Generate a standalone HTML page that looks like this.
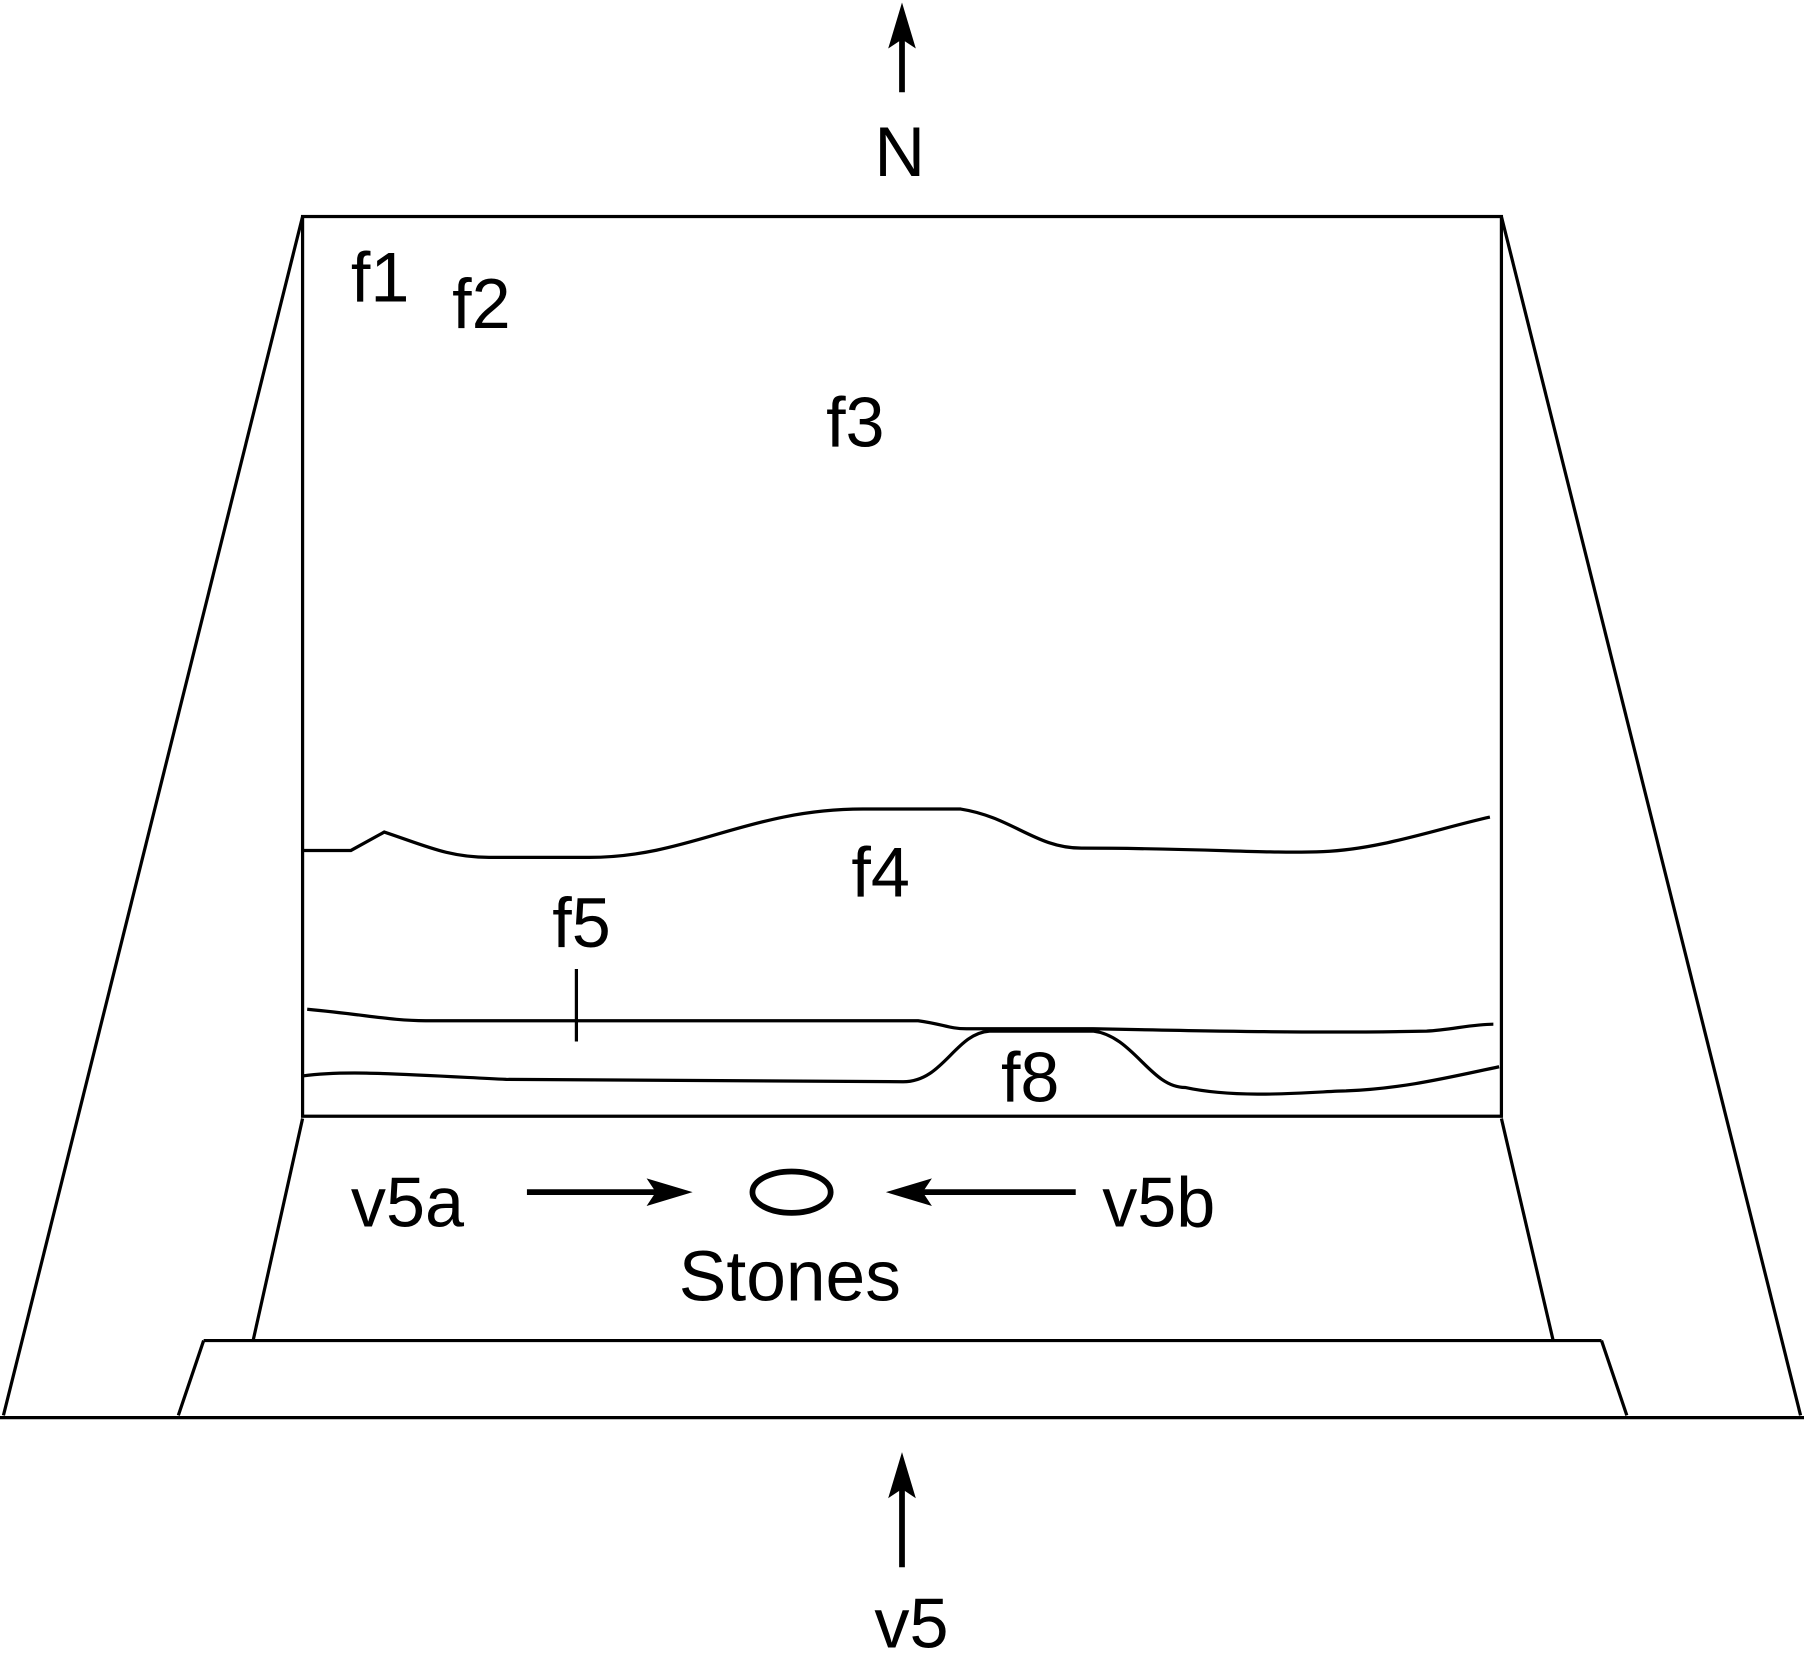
<!DOCTYPE html>
<html><head><meta charset="utf-8"><style>html,body{margin:0;padding:0;background:#fff}svg{display:block}</style></head>
<body>
<svg width="1804" height="1671" viewBox="0 0 1568 1452" xmlns="http://www.w3.org/2000/svg">
<g fill="none" stroke="#000" stroke-width="2.8">
<line x1="263" y1="188" x2="3" y2="1230"/>
<line x1="1305" y1="188" x2="1565" y2="1230"/>
<line x1="0" y1="1232" x2="1568" y2="1232"/>
<rect x="263" y="188" width="1042" height="782"/>
<line x1="263" y1="972" x2="220" y2="1165"/>
<line x1="1305" y1="972" x2="1350" y2="1165"/>
<line x1="177" y1="1165" x2="1392" y2="1165"/>
<line x1="177" y1="1165" x2="155" y2="1230"/>
<line x1="1392" y1="1165" x2="1414" y2="1230"/>
<path d="M263,739 L305,739 L334,723 C370,735 390,745 425,745 L512,745 C600,745 650,703 750,703 L835,703 C880,710 900,737 940,737 C1050,737 1100,742 1150,740 C1200,738 1250,720 1295,710"/>
<path d="M267,877 C320,882 340,887 370,887 L798,887 C820,890 825,894 840,894 L950,894 C1050,896 1150,898 1240,896 C1260,895 1280,890 1298,890"/>
<path d="M263,935 C300,930 340,933 440,938 L785,940 C820,940 830,898 860,896 L950,896 C985,900 1000,945 1030,945 C1080,956 1150,948 1170,948 C1220,946 1260,936 1303,927"/>
<line x1="501" y1="842" x2="501" y2="905"/>
<ellipse cx="688" cy="1036" rx="34" ry="18" stroke-width="5"/>
<g stroke-width="5">
<line x1="784" y1="80" x2="784" y2="20"/>
<line x1="784" y1="1362" x2="784" y2="1282"/>
<line x1="458" y1="1036" x2="580" y2="1036"/>
<line x1="935" y1="1036" x2="790" y2="1036"/>
</g>
</g>
<g fill="#000">
<polygon points="784,2 772,42 784,34 796,42"/>
<polygon points="784,1262 772,1302 784,1294 796,1302"/>
<polygon points="602,1036 562,1024 570,1036 562,1048"/>
<polygon points="770,1036 810,1024 802,1036 810,1048"/>
</g>
<g font-family="Liberation Sans, sans-serif" font-size="61" fill="#000">
<text x="305" y="262">f1</text>
<text x="393" y="285">f2</text>
<text x="718" y="388">f3</text>
<text x="740" y="779">f4</text>
<text x="480" y="823">f5</text>
<text x="870" y="957">f8</text>
<text x="305" y="1066">v5a</text>
<text x="958" y="1066">v5b</text>
<text x="590" y="1130" font-size="62">Stones</text>
<text x="760" y="153">N</text>
<text x="760" y="1432">v5</text>
</g>
</svg>
</body></html>
